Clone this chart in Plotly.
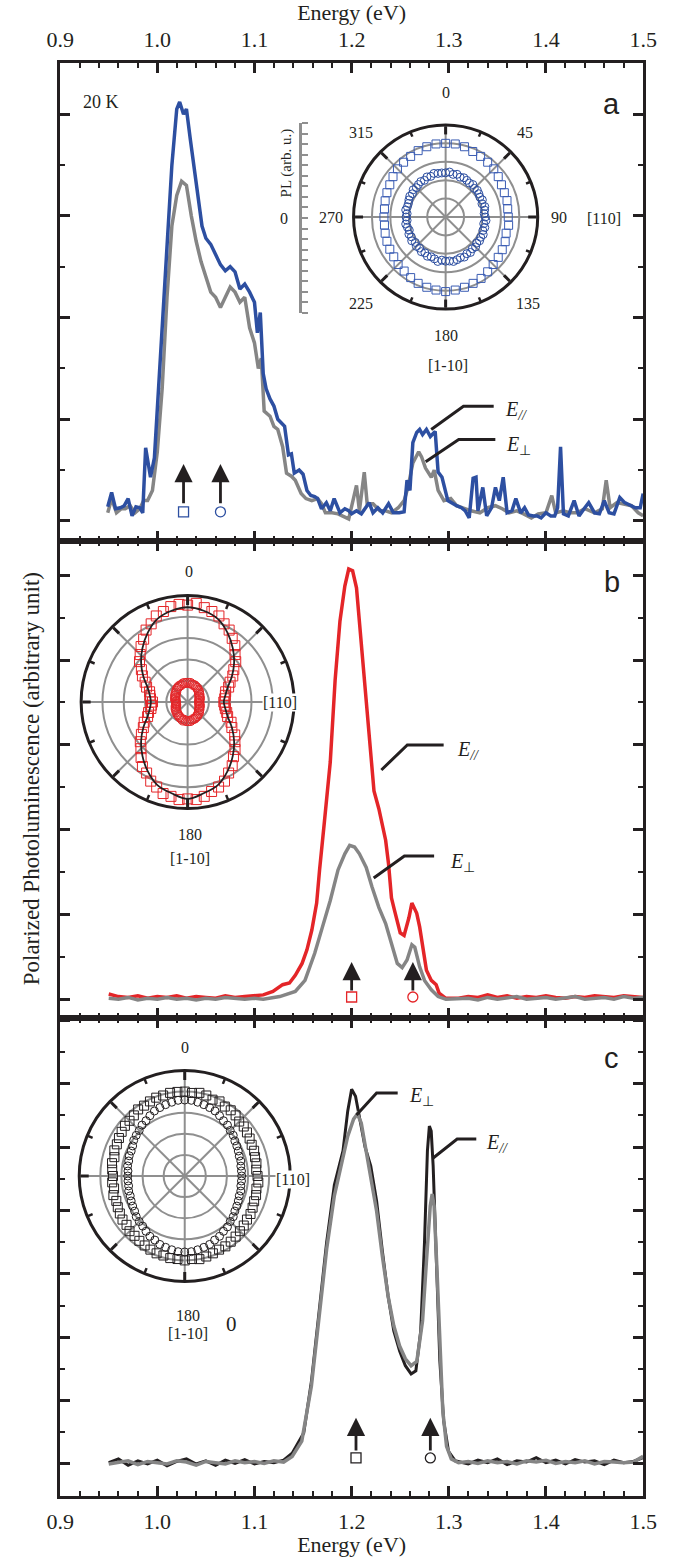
import plotly.graph_objects as go

W, H = 686, 1557
SERIF = "Liberation Serif, Times New Roman, serif"
SANS = "Liberation Sans, Arial, sans-serif"
INK = "#231f20"
BLUE = "#2d4fa1"
RED = "#e42528"
GRAY = "#858585"
GRID = "#8f8f8f"

# ---------------- Panel a spectra (Energy eV, PL arb.) ----------------
a_blue_pts = [
    (0.949, 0.14), (0.953, 0.28), (0.957, 0.12), (0.962, 0.13), (0.966, 0.15), (0.970, 0.22),
    (0.974, 0.05), (0.978, 0.14), (0.982, 0.13), (0.985, 0.08), (0.988, 0.72), (0.993, 0.43),
    (0.997, 0.62), (1.000, 1.10), (1.005, 1.90), (1.010, 2.70), (1.015, 3.50), (1.020, 4.05),
    (1.023, 4.12), (1.027, 4.00), (1.030, 4.05), (1.034, 3.75), (1.038, 3.45), (1.042, 3.15),
    (1.046, 2.90), (1.050, 2.78), (1.055, 2.72), (1.060, 2.62), (1.065, 2.52), (1.070, 2.46),
    (1.075, 2.50), (1.080, 2.45), (1.085, 2.28), (1.090, 2.33), (1.095, 2.25), (1.100, 2.15),
    (1.103, 1.85), (1.106, 2.05), (1.109, 1.45), (1.112, 1.30), (1.116, 1.20), (1.120, 1.13),
    (1.124, 1.00), (1.127, 0.97), (1.131, 0.93), (1.135, 0.65), (1.138, 0.66), (1.141, 0.47),
    (1.146, 0.50), (1.150, 0.46), (1.154, 0.30), (1.158, 0.25), (1.162, 0.24), (1.165, 0.22),
    (1.169, 0.12), (1.174, 0.18), (1.178, 0.10), (1.182, 0.22), (1.188, 0.08), (1.193, 0.12),
    (1.197, 0.10), (1.200, 0.07), (1.205, 0.10), (1.210, 0.07), (1.214, 0.12), (1.218, 0.18),
    (1.222, 0.08), (1.227, 0.13), (1.232, 0.08), (1.238, 0.17), (1.243, 0.08), (1.249, 0.08),
    (1.254, 0.09), (1.257, 0.40), (1.260, 0.30), (1.263, 0.77), (1.267, 0.87), (1.270, 0.90),
    (1.273, 0.85), (1.277, 0.90), (1.281, 0.83), (1.286, 0.88), (1.289, 0.48), (1.293, 0.43),
    (1.299, 0.20), (1.304, 0.17), (1.308, 0.15), (1.313, 0.13), (1.317, 0.10), (1.321, 0.03),
    (1.325, 0.42), (1.328, 0.43), (1.330, 0.10), (1.335, 0.33), (1.339, 0.05), (1.344, 0.13),
    (1.348, 0.33), (1.352, 0.20), (1.356, 0.43), (1.360, 0.08), (1.365, 0.10), (1.369, 0.22),
    (1.374, 0.08), (1.378, 0.13), (1.382, 0.06), (1.387, 0.05), (1.391, 0.05), (1.395, 0.03),
    (1.400, 0.08), (1.405, 0.05), (1.409, 0.05), (1.412, 0.13), (1.415, 0.73), (1.418, 0.07),
    (1.423, 0.05), (1.429, 0.20), (1.434, 0.05), (1.440, 0.13), (1.444, 0.18), (1.450, 0.08),
    (1.455, 0.07), (1.460, 0.20), (1.465, 0.08), (1.470, 0.07), (1.476, 0.23), (1.481, 0.18),
    (1.487, 0.15), (1.492, 0.13), (1.497, 0.13), (1.500, 0.27),
]
a_gray_pts = [
    (0.949, 0.08), (0.953, 0.22), (0.958, 0.08), (0.963, 0.12), (0.967, 0.12), (0.972, 0.15),
    (0.977, 0.08), (0.982, 0.12), (0.986, 0.20), (0.990, 0.20), (0.995, 0.30), (1.000, 0.68),
    (1.005, 1.30), (1.010, 2.20), (1.015, 2.90), (1.020, 3.20), (1.025, 3.34), (1.030, 3.30),
    (1.035, 3.00), (1.040, 2.75), (1.045, 2.55), (1.050, 2.40), (1.055, 2.25), (1.060, 2.20),
    (1.065, 2.10), (1.070, 2.20), (1.075, 2.30), (1.080, 2.25), (1.085, 2.15), (1.090, 2.20),
    (1.095, 1.90), (1.100, 1.75), (1.104, 1.50), (1.107, 1.60), (1.110, 1.08), (1.116, 1.03),
    (1.120, 0.93), (1.124, 0.90), (1.129, 0.73), (1.133, 0.47), (1.138, 0.44), (1.142, 0.40),
    (1.148, 0.27), (1.153, 0.22), (1.159, 0.20), (1.165, 0.22), (1.169, 0.17), (1.173, 0.08),
    (1.180, 0.08), (1.186, 0.07), (1.191, 0.05), (1.197, 0.02), (1.205, 0.35), (1.208, 0.10),
    (1.213, 0.48), (1.216, 0.17), (1.222, 0.17), (1.229, 0.10), (1.235, 0.10), (1.241, 0.08),
    (1.248, 0.13), (1.254, 0.20), (1.258, 0.33), (1.260, 0.43), (1.263, 0.57), (1.269, 0.68),
    (1.272, 0.63), (1.276, 0.52), (1.282, 0.43), (1.285, 0.50), (1.289, 0.30), (1.295, 0.20),
    (1.302, 0.22), (1.308, 0.15), (1.316, 0.12), (1.323, 0.10), (1.332, 0.08), (1.340, 0.13),
    (1.348, 0.15), (1.355, 0.12), (1.362, 0.08), (1.370, 0.10), (1.377, 0.07), (1.385, 0.03),
    (1.392, 0.07), (1.400, 0.08), (1.406, 0.25), (1.410, 0.08), (1.418, 0.10), (1.425, 0.08),
    (1.432, 0.08), (1.440, 0.12), (1.450, 0.08), (1.458, 0.12), (1.462, 0.40), (1.466, 0.13),
    (1.473, 0.18), (1.480, 0.17), (1.488, 0.15), (1.495, 0.08), (1.500, 0.05),
]

# ---------------- Panel b spectra ----------------
b_red_pts = [
    (0.950, 0.07), (0.960, 0.04), (0.970, 0.03), (0.980, 0.05), (0.990, 0.02), (1.000, 0.04),
    (1.010, 0.03), (1.020, 0.05), (1.030, 0.02), (1.040, 0.04), (1.050, 0.03), (1.060, 0.02),
    (1.070, 0.05), (1.080, 0.03), (1.090, 0.04), (1.100, 0.05),
    (1.109, 0.06), (1.119, 0.10), (1.129, 0.18), (1.136, 0.20), (1.142, 0.29), (1.149, 0.43),
    (1.154, 0.59), (1.159, 0.82), (1.164, 1.14), (1.167, 1.53), (1.170, 1.91), (1.172, 2.10),
    (1.178, 2.80), (1.183, 3.76), (1.188, 4.46), (1.193, 4.87), (1.197, 5.07), (1.201, 5.05),
    (1.205, 4.85), (1.208, 4.46), (1.213, 3.76), (1.218, 3.05), (1.223, 2.46), (1.228, 2.25),
    (1.231, 2.10), (1.235, 1.88), (1.238, 1.60), (1.241, 1.20), (1.244, 1.06), (1.247, 0.94),
    (1.250, 0.79), (1.254, 0.76), (1.259, 0.97), (1.262, 1.14), (1.267, 1.02), (1.270, 0.86),
    (1.274, 0.59), (1.277, 0.35), (1.282, 0.23), (1.287, 0.18), (1.290, 0.08), (1.297, 0.02),
    (1.310, 0.02), (1.320, 0.04), (1.330, 0.03), (1.340, 0.06), (1.350, 0.03), (1.360, 0.05),
    (1.370, 0.02), (1.380, 0.04), (1.390, 0.03), (1.400, 0.05), (1.410, 0.03), (1.420, 0.02),
    (1.430, 0.04), (1.440, 0.03), (1.450, 0.05), (1.460, 0.04), (1.470, 0.03), (1.480, 0.05),
    (1.490, 0.04), (1.500, 0.03),
]
b_gray_pts = [
    (0.950, 0.02), (0.960, 0.01), (0.970, 0.03), (0.980, 0.00), (0.990, 0.02), (1.000, 0.01),
    (1.010, 0.03), (1.020, 0.01), (1.030, 0.02), (1.040, 0.00), (1.050, 0.02), (1.060, 0.01),
    (1.070, 0.03), (1.080, 0.02), (1.090, 0.01), (1.100, 0.02),
    (1.109, 0.01), (1.126, 0.04), (1.142, 0.10), (1.152, 0.23), (1.162, 0.55), (1.170, 0.86),
    (1.178, 1.17), (1.186, 1.53), (1.193, 1.72), (1.198, 1.82), (1.203, 1.80), (1.208, 1.72),
    (1.215, 1.56), (1.221, 1.33), (1.228, 1.09), (1.235, 0.90), (1.241, 0.67), (1.247, 0.43),
    (1.252, 0.38), (1.257, 0.47), (1.262, 0.65), (1.265, 0.62), (1.270, 0.39), (1.275, 0.23),
    (1.282, 0.12), (1.289, 0.04), (1.297, 0.01),
    (1.310, 0.01), (1.320, 0.02), (1.330, 0.00), (1.340, 0.03), (1.350, 0.01), (1.360, 0.02),
    (1.370, 0.04), (1.380, 0.01), (1.390, 0.02), (1.400, 0.03), (1.410, 0.01), (1.420, 0.02),
    (1.430, 0.04), (1.440, 0.01), (1.450, 0.02), (1.460, 0.03), (1.470, 0.01), (1.480, 0.04),
    (1.490, 0.02), (1.500, 0.03),
]

# ---------------- Panel c spectra ----------------
c_black_pts = [
    (0.950, 0.02), (0.960, 0.08), (0.970, -0.02), (0.980, 0.05), (0.990, 0.00), (1.000, 0.06),
    (1.010, -0.03), (1.020, 0.04), (1.030, 0.08), (1.040, 0.00), (1.050, 0.05), (1.060, -0.02),
    (1.070, 0.06), (1.080, 0.01), (1.090, 0.07), (1.100, 0.00), (1.110, 0.04), (1.120, 0.02),
    (1.130, 0.06),
    (1.1388, 0.17), (1.1507, 0.49), (1.1586, 1.30), (1.1665, 2.40), (1.1743, 3.50), (1.1822, 4.40),
    (1.1911, 4.94), (1.1960, 5.57), (1.2000, 5.91), (1.2040, 5.80), (1.2079, 5.49), (1.2138, 5.00),
    (1.2197, 4.70), (1.2257, 4.15), (1.2316, 3.36), (1.2375, 2.65), (1.2434, 2.10), (1.2494, 1.78),
    (1.2553, 1.55), (1.2612, 1.42), (1.2661, 1.47), (1.2711, 2.10), (1.2750, 3.50), (1.2780, 4.94),
    (1.2800, 5.33), (1.2819, 5.25), (1.2839, 4.70), (1.2869, 3.20), (1.2908, 1.62), (1.2947, 0.68),
    (1.2997, 0.20), (1.3066, 0.05),
    (1.310, 0.04), (1.320, 0.00), (1.330, 0.06), (1.340, 0.02), (1.350, 0.08), (1.360, -0.01),
    (1.370, 0.05), (1.380, 0.03), (1.390, 0.10), (1.400, 0.02), (1.410, 0.06), (1.420, 0.00),
    (1.430, 0.07), (1.440, 0.03), (1.450, 0.05), (1.460, -0.01), (1.470, 0.06), (1.480, 0.02),
    (1.490, 0.04), (1.500, 0.10),
]
c_gray_pts = [
    (0.950, 0.00), (0.960, 0.03), (0.970, 0.05), (0.980, -0.01), (0.990, 0.04), (1.000, 0.02),
    (1.010, 0.00), (1.020, 0.05), (1.030, 0.03), (1.040, -0.02), (1.050, 0.04), (1.060, 0.02),
    (1.070, 0.00), (1.080, 0.05), (1.090, 0.02), (1.100, 0.04), (1.110, 0.01), (1.120, 0.05),
    (1.130, 0.03),
    (1.1388, 0.12), (1.1487, 0.36), (1.1586, 1.23), (1.1665, 2.33), (1.1743, 3.39), (1.1822, 4.23),
    (1.1901, 4.78), (1.1960, 5.17), (1.2020, 5.44), (1.2059, 5.52), (1.2099, 5.38), (1.2148, 4.97),
    (1.2197, 4.54), (1.2257, 3.99), (1.2316, 3.28), (1.2375, 2.65), (1.2434, 2.18), (1.2494, 1.86),
    (1.2553, 1.66), (1.2612, 1.55), (1.2671, 1.62), (1.2730, 2.26), (1.2770, 3.20), (1.2809, 4.07),
    (1.2829, 4.26), (1.2849, 4.07), (1.2879, 3.04), (1.2908, 1.78), (1.2938, 0.84), (1.2977, 0.28),
    (1.3026, 0.08),
    (1.310, 0.02), (1.320, 0.04), (1.330, 0.01), (1.340, 0.05), (1.350, 0.02), (1.360, 0.04),
    (1.370, 0.00), (1.380, 0.05), (1.390, 0.03), (1.400, 0.06), (1.410, 0.01), (1.420, 0.04),
    (1.430, 0.02), (1.440, 0.05), (1.450, 0.00), (1.460, 0.04), (1.470, 0.03), (1.480, 0.02),
    (1.490, 0.03), (1.500, 0.12),
]

# excitation markers (energy, level) and arrows (tail level, head level)
a_mark_E = [1.027, 1.065]; a_mark_I = [0.09, 0.09]
b_mark_E = [1.200, 1.263]; b_mark_I = [0.035, 0.035]
c_mark_E = [1.2045, 1.281]; c_mark_I = [0.095, 0.095]
a_arrow = (0.16, 0.56)
b_arrow = (0.094, 0.447)
c_arrow = (0.19, 0.73)

# ---------------- polar data (angle deg, normalized PL) ----------------
ANG_75 = [i * 7.5 for i in range(48)]
ANG_5 = list(range(0, 360, 5))
ANG_10 = list(range(0, 370, 10))

a_sq_r = [0.80, 0.80, 0.79, 0.77, 0.76, 0.75, 0.74, 0.72, 0.70, 0.69, 0.69, 0.68,
          0.68, 0.69, 0.68, 0.70, 0.71, 0.72, 0.73, 0.75, 0.77, 0.78, 0.79, 0.80,
          0.81, 0.80, 0.79, 0.78, 0.76, 0.74, 0.73, 0.71, 0.70, 0.69, 0.68, 0.67,
          0.67, 0.67, 0.68, 0.69, 0.70, 0.72, 0.74, 0.75, 0.76, 0.78, 0.79, 0.80]
a_ci_r = [0.48, 0.49, 0.47, 0.48, 0.46, 0.47, 0.46, 0.45, 0.46, 0.44, 0.45, 0.44, 0.43, 0.44, 0.42, 0.44, 0.43, 0.42,
          0.43, 0.44, 0.42, 0.44, 0.43, 0.45, 0.44, 0.45, 0.44, 0.46, 0.45, 0.47, 0.46, 0.48, 0.47, 0.48, 0.49, 0.48,
          0.48, 0.47, 0.49, 0.47, 0.46, 0.47, 0.45, 0.46, 0.44, 0.45, 0.43, 0.45, 0.43, 0.44, 0.42, 0.43, 0.44, 0.42,
          0.43, 0.42, 0.44, 0.43, 0.43, 0.44, 0.45, 0.44, 0.46, 0.45, 0.46, 0.47, 0.46, 0.48, 0.47, 0.49, 0.48, 0.48]
b_sq_r = [0.91, 0.93, 0.90, 0.88, 0.86, 0.81, 0.78, 0.73, 0.69, 0.63, 0.59, 0.53, 0.49, 0.44, 0.41, 0.37, 0.36, 0.35,
          0.34, 0.35, 0.36, 0.38, 0.40, 0.45, 0.48, 0.54, 0.58, 0.63, 0.67, 0.73, 0.77, 0.82, 0.85, 0.87, 0.90, 0.92,
          0.91, 0.92, 0.90, 0.89, 0.85, 0.82, 0.77, 0.74, 0.68, 0.62, 0.58, 0.53, 0.48, 0.45, 0.40, 0.38, 0.35, 0.34,
          0.33, 0.35, 0.36, 0.37, 0.41, 0.44, 0.49, 0.53, 0.59, 0.63, 0.68, 0.72, 0.78, 0.81, 0.86, 0.88, 0.91, 0.92]
b_ci_r = [0.18, 0.18, 0.18, 0.17, 0.17, 0.17, 0.16, 0.16, 0.15, 0.15, 0.14, 0.13, 0.13, 0.12, 0.12, 0.12, 0.11, 0.11,
          0.11, 0.11, 0.11, 0.12, 0.12, 0.12, 0.13, 0.13, 0.14, 0.15, 0.15, 0.16, 0.16, 0.17, 0.17, 0.17, 0.18, 0.18,
          0.18, 0.18, 0.17, 0.18, 0.17, 0.16, 0.16, 0.15, 0.15, 0.14, 0.14, 0.13, 0.13, 0.12, 0.12, 0.11, 0.11, 0.11,
          0.11, 0.11, 0.12, 0.12, 0.12, 0.13, 0.13, 0.14, 0.14, 0.15, 0.16, 0.16, 0.17, 0.17, 0.17, 0.18, 0.18, 0.18]
b_fit_r = [0.89, 0.87, 0.83, 0.75, 0.66, 0.57, 0.48, 0.40, 0.36, 0.34, 0.36, 0.40, 0.48, 0.57, 0.66, 0.75, 0.83, 0.87,
           0.91, 0.87, 0.83, 0.75, 0.66, 0.57, 0.48, 0.40, 0.36, 0.345, 0.36, 0.40, 0.48, 0.57, 0.66, 0.75, 0.83, 0.87,
           0.89]
c_sq_r = [0.80, 0.79, 0.80, 0.79, 0.77, 0.78, 0.76, 0.76, 0.75, 0.73, 0.73, 0.72, 0.71, 0.70, 0.70, 0.69, 0.69, 0.68,
          0.69, 0.70, 0.69, 0.70, 0.70, 0.71, 0.72, 0.72, 0.73, 0.74, 0.75, 0.76, 0.77, 0.77, 0.78, 0.79, 0.80, 0.79,
          0.80, 0.79, 0.79, 0.78, 0.78, 0.77, 0.76, 0.75, 0.74, 0.74, 0.72, 0.72, 0.71, 0.70, 0.69, 0.70, 0.68, 0.69,
          0.68, 0.69, 0.70, 0.69, 0.71, 0.71, 0.72, 0.73, 0.74, 0.74, 0.75, 0.77, 0.77, 0.78, 0.79, 0.79, 0.80, 0.80]
c_ci_r = [0.72, 0.72, 0.71, 0.70, 0.69, 0.68, 0.66, 0.64, 0.63, 0.61, 0.60, 0.58, 0.57, 0.56, 0.55, 0.55, 0.54, 0.54,
          0.54, 0.54, 0.54, 0.55, 0.55, 0.56, 0.57, 0.58, 0.60, 0.61, 0.63, 0.64, 0.66, 0.67, 0.69, 0.70, 0.71, 0.72,
          0.72, 0.72, 0.71, 0.70, 0.69, 0.67, 0.66, 0.64, 0.62, 0.61, 0.60, 0.58, 0.57, 0.56, 0.55, 0.55, 0.54, 0.54,
          0.54, 0.54, 0.55, 0.55, 0.56, 0.56, 0.57, 0.59, 0.60, 0.61, 0.63, 0.64, 0.66, 0.68, 0.69, 0.70, 0.71, 0.72]

MINOR_ANG = [22.5, 67.5, 112.5, 157.5, 202.5, 247.5, 292.5, 337.5]

fig = go.Figure()

def line(pts, color, xa, ya, width=3.5):
    xs, ys = zip(*pts)
    fig.add_trace(go.Scatter(x=list(xs), y=list(ys), mode="lines",
                             line=dict(color=color, width=width),
                             xaxis=xa, yaxis=ya, hoverinfo="skip"))

line(a_gray_pts, GRAY, "x", "y")
line(a_blue_pts, BLUE, "x", "y")
line(b_red_pts, RED, "x2", "y2")
line(b_gray_pts, GRAY, "x2", "y2")
line(c_black_pts, INK, "x3", "y3", 3)
line(c_gray_pts, GRAY, "x3", "y3")

for E, I, col, xa, ya in [(a_mark_E, a_mark_I, BLUE, "x", "y"),
                          (b_mark_E, b_mark_I, RED, "x2", "y2"),
                          (c_mark_E, c_mark_I, INK, "x3", "y3")]:
    fig.add_trace(go.Scatter(x=E, y=I, mode="markers", xaxis=xa, yaxis=ya,
                             marker=dict(symbol=["square-open", "circle-open"], size=10,
                                         color=col, line=dict(width=1.3, color=col))))

# dummy trace for the inset scale bar axis
fig.add_trace(go.Scatter(x=[None], y=[None], xaxis="x4", yaxis="y4"))

def pmark(r, th, sym, size, col, sub):
    fig.add_trace(go.Scatterpolar(r=r, theta=th, mode="markers", subplot=sub,
                                  marker=dict(symbol=sym, size=size, color=col,
                                              line=dict(width=1, color=col))))

def minor_ticks(sub):
    rr, tt = [], []
    for a in MINOR_ANG:
        rr += [0.945, 1.0, None]
        tt += [a, a, None]
    fig.add_trace(go.Scatterpolar(r=rr, theta=tt, mode="lines", subplot=sub,
                                  line=dict(color=INK, width=2.5), hoverinfo="skip"))

pmark(a_sq_r, ANG_75, "square-open", 8, "#3a5cb3", "polar")
pmark(a_ci_r, ANG_5, "circle-open", 8, BLUE, "polar")
minor_ticks("polar")
pmark(b_sq_r, ANG_5, "square-open", 10, RED, "polar2")
pmark(b_ci_r, ANG_5, "circle-open", 9, RED, "polar2")
fig.add_trace(go.Scatterpolar(r=b_fit_r, theta=ANG_10, mode="lines", subplot="polar2",
                              line=dict(color=INK, width=1.8, shape="spline")))
minor_ticks("polar2")
pmark(c_sq_r, ANG_5, "square-open", 9, INK, "polar3")
pmark(c_ci_r, ANG_5, "circle-open", 8, INK, "polar3")
minor_ticks("polar3")

# ---------------- layout ----------------
XD = [48 / W, 656 / W]
def yd(top, bot):
    return [1 - bot / H, 1 - top / H]

tickfont = dict(family=SERIF, size=22, color=INK)
def xax(anchor, side, labels, title=None):
    d = dict(domain=XD, anchor=anchor, side=side, range=[0.8999, 1.5001],
             tick0=0.9, dtick=0.1, tickformat=".1f", ticks="inside", ticklen=10,
             tickwidth=2.5, tickcolor=INK, showline=True, linewidth=3, linecolor=INK,
             mirror="allticks", showgrid=False, zeroline=False, showticklabels=labels,
             tickfont=tickfont, ticklabelstandoff=4,
             minor=dict(dtick=0.02, tick0=0.9, ticks="inside", ticklen=5, tickwidth=2, tickcolor=INK))
    if title:
        d["title"] = dict(text=title, font=dict(family=SERIF, size=22, color=INK), standoff=6)
    return d

def yax(anchor, dom, rng):
    return dict(domain=dom, anchor=anchor, range=rng, tick0=0, dtick=1, ticks="inside",
                ticklen=10, tickwidth=2.5, tickcolor=INK, showline=True, linewidth=3,
                linecolor=INK, mirror="allticks", showgrid=False, zeroline=False,
                showticklabels=False,
                minor=dict(dtick=0.5, tick0=0, ticks="inside", ticklen=5, tickwidth=2, tickcolor=INK))

def polar(cx, cy, r):
    return dict(domain=dict(x=[(cx - r) / W, (cx + r) / W], y=[1 - (cy + r) / H, 1 - (cy - r) / H]),
                bgcolor="white",
                angularaxis=dict(rotation=90, direction="clockwise",
                                 tickvals=[0, 45, 90, 135, 180, 225, 270, 315],
                                 ticks="inside", ticklen=8, tickwidth=2.5, tickcolor=INK,
                                 showline=True, linewidth=3, linecolor=INK,
                                 showgrid=True, gridcolor=GRID, gridwidth=1.5,
                                 showticklabels=False),
                radialaxis=dict(range=[0, 1], tickvals=[0.2, 0.4, 0.6, 0.8], showticklabels=False,
                                ticks="", showline=False, gridcolor=GRID, gridwidth=1.5))

def ann(text, x, y, size=16, family=SERIF, bg=None, angle=0, xanchor="center"):
    d = dict(text=text, x=x / W, y=1 - y / H, xref="paper", yref="paper", showarrow=False,
             xanchor=xanchor, yanchor="middle", textangle=angle,
             font=dict(family=family, size=size, color=INK))
    if bg:
        d["bgcolor"] = bg
        d["borderpad"] = 0
    return d

annotations = [
    ann("Polarized Photoluminescence (arbitrary unit)", 18, 779, size=23, angle=-90),
    ann("a", 623, 104, size=29, family=SANS),
    ann("b", 623, 582, size=29, family=SANS),
    ann("c", 623, 1058, size=29, family=SANS),
    ann("20 K", 91, 102, size=18),
    # panel a polar labels
    ann("0", 450, 93), ann("45", 533, 132), ann("90", 568, 217), ann("135", 536, 303),
    ann("180", 450, 336), ann("225", 362, 303), ann("270", 331, 217), ann("315", 362, 132),
    ann("[110]", 615, 219), ann("[1-10]", 452, 365), ann("0", 282, 219),
    ann("PL (arb. u.)", 284, 163, size=15, angle=-90),
    # panel b polar labels
    ann("0", 182, 571), ann("180", 183, 835), ann("[1-10]", 183, 858),
    ann("[110]", 277, 702, bg="white"),
    # panel c polar labels
    ann("0", 178, 1047), ann("180", 181, 1315), ann("[1-10]", 181, 1333),
    ann("0", 227, 1324, size=21), ann("[110]", 291, 1179, bg="white"),
]

def elabel(text, E, I, xr, yr):
    return dict(text=text, x=E, y=I, xref=xr, yref=yr, showarrow=False, xanchor="left",
                yanchor="middle", font=dict(family=SERIF, size=20, color=INK))

EPAR = "<i>E</i><sub><i>//</i></sub>"
EPERP = "<i>E</i><sub>⊥</sub>"
annotations += [
    elabel(EPAR, 1.3555, 1.09, "x", "y"), elabel(EPERP, 1.3565, 0.74, "x", "y"),
    elabel(EPAR, 1.3066, 2.93, "x2", "y2"), elabel(EPERP, 1.2987, 1.62, "x2", "y2"),
    elabel(EPERP, 1.2572, 5.80, "x3", "y3"), elabel(EPAR, 1.3362, 5.05, "x3", "y3"),
]

for E_list, (tail, head), xr, yr in [(a_mark_E, a_arrow, "x", "y"),
                                     (b_mark_E, b_arrow, "x2", "y2"),
                                     (c_mark_E, c_arrow, "x3", "y3")]:
    for E in E_list:
        annotations.append(dict(text="", x=E, y=head, ax=E, ay=tail, xref=xr, yref=yr,
                                axref=xr, ayref=yr, showarrow=True, arrowhead=2,
                                arrowsize=1.3, arrowwidth=2.8, arrowcolor=INK))

# leader lines (E, level) for each label
leaders = [
    ("x", "y", [(1.2819, 0.90), (1.3151, 1.127), (1.3462, 1.127)]),
    ("x", "y", [(1.2762, 0.583), (1.3102, 0.80), (1.3479, 0.80)]),
    ("x2", "y2", [(1.2306, 2.706), (1.2573, 3.0), (1.2947, 3.0)]),
    ("x2", "y2", [(1.2227, 1.435), (1.2543, 1.694), (1.2849, 1.694)]),
    ("x3", "y3", [(1.2050, 5.505), (1.2257, 5.852), (1.2474, 5.852)]),
    ("x3", "y3", [(1.2839, 4.826), (1.3086, 5.126), (1.3283, 5.126)]),
]
shapes = []
for xr, yr, pts in leaders:
    path = "M " + " L ".join(f"{e},{v}" for e, v in pts)
    shapes.append(dict(type="path", path=path, xref=xr, yref=yr,
                       line=dict(color=INK, width=3)))

fig.update_layout(
    width=W, height=H, margin=dict(l=0, r=0, t=0, b=0),
    paper_bgcolor="white", plot_bgcolor="white", showlegend=False,
    xaxis=xax("y", "top", True, "Energy (eV)"),
    xaxis2=xax("y2", "bottom", False),
    xaxis3=xax("y3", "bottom", True, "Energy (eV)"),
    yaxis=yax("x", yd(63, 541), [-0.197, 4.503]),
    yaxis2=yax("x2", yd(541, 1018), [-0.212, 5.4]),
    yaxis3=yax("x3", yd(1018, 1496), [-0.505, 7.035]),
    xaxis4=dict(domain=[290 / W, 297 / W], anchor="y4", visible=False, range=[0, 1]),
    yaxis4=dict(domain=yd(123, 313), anchor="x4", side="right", range=[-9, 9], dtick=1,
                tick0=0, ticks="outside", ticklen=6, tickwidth=2, tickcolor=GRID,
                showline=True, linewidth=3, linecolor=GRID, showgrid=False,
                zeroline=False, showticklabels=False),
    polar=polar(450, 217, 96),
    polar2=polar(181, 702, 111),
    polar3=polar(178, 1176, 110),
    annotations=annotations,
    shapes=shapes,
)

fig.write_html("out.html")
